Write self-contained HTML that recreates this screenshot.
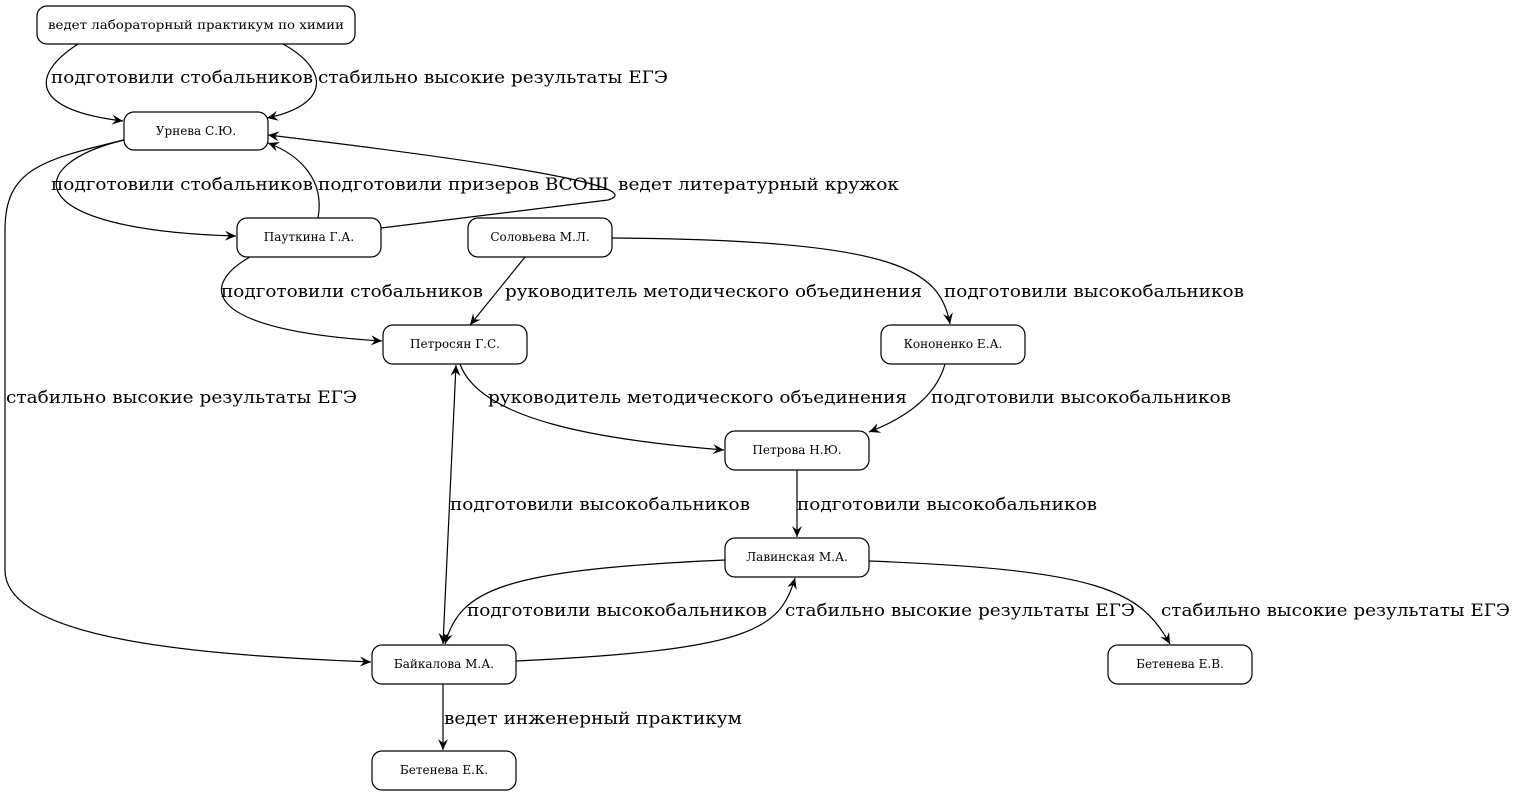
<!DOCTYPE html>
<html><head><meta charset="utf-8"><style>
html,body{margin:0;padding:0;background:#fff}
svg{display:block}
text{font-family:"DejaVu Serif","Liberation Serif",serif;fill:#000}
.n{font-size:12px}
.e{font-size:17px}
.l{fill:none;stroke:#000;stroke-width:1.2}
.b{fill:#fff;stroke:#000;stroke-width:1.2}
</style></head><body>
<svg width="1517" height="796" viewBox="0 0 1517 796" xmlns="http://www.w3.org/2000/svg">
<defs>
<marker id="a" viewBox="0 0 12 10" refX="11" refY="5" markerWidth="12" markerHeight="10" markerUnits="userSpaceOnUse" orient="auto-start-reverse">
<path d="M0,0 L11,5 L0,10 L4,5 Z" fill="#000"/>
</marker>
</defs>
<g class="l" marker-end="url(#a)">
<path d="M78,44 C30,75 30,110 123,121"/>
<path d="M283,44 C330,70 330,105 267,118"/>
<path d="M124,140 C20,165 20,230 236,236"/>
<path d="M318,218 C325,180 300,155 268,143"/>
<path d="M381,228 L608,200 C628,194 630,178 268,135"/>
<path d="M124,140 C40,160 5,170 5,230 L5,570 C5,640 200,655 371,662"/>
<path d="M250,257 C200,285 200,330 382,341"/>
<path d="M525,257 L470,325"/>
<path d="M612,238 C900,240 940,270 950,324"/>
<path d="M460,364 C480,420 600,440 724,450"/>
<path d="M945,364 C935,400 900,420 869,432"/>
<path d="M797,470 L797,537"/>
<path d="M456,365 L443,644" marker-start="url(#a)"/>
<path d="M725,560 C500,570 460,590 445,644"/>
<path d="M516,661 C750,650 780,630 795,578"/>
<path d="M869,561 C1100,570 1140,590 1170,644"/>
<path d="M443,684 L443,750"/>
</g>
<g>
<rect class="b" x="37" y="6" width="318" height="38" rx="10"/>
<rect class="b" x="124" y="112" width="144" height="38" rx="10"/>
<rect class="b" x="237" y="218" width="144" height="39" rx="10"/>
<rect class="b" x="468" y="218" width="144" height="39" rx="10"/>
<rect class="b" x="383" y="325" width="144" height="39" rx="10"/>
<rect class="b" x="881" y="325" width="144" height="39" rx="10"/>
<rect class="b" x="725" y="431" width="144" height="39" rx="10"/>
<rect class="b" x="725" y="538" width="144" height="39" rx="10"/>
<rect class="b" x="372" y="645" width="144" height="39" rx="10"/>
<rect class="b" x="1108" y="645" width="144" height="39" rx="10"/>
<rect class="b" x="372" y="751" width="144" height="39" rx="10"/>
</g>
<g class="n" text-anchor="middle">
<text x="196" y="29" textLength="296" lengthAdjust="spacingAndGlyphs">ведет лабораторный практикум по химии</text>
<text x="196" y="135">Урнева С.Ю.</text>
<text x="309" y="241">Пауткина Г.А.</text>
<text x="540" y="241">Соловьева М.Л.</text>
<text x="455" y="348">Петросян Г.С.</text>
<text x="953" y="348">Кононенко Е.А.</text>
<text x="797" y="454">Петрова Н.Ю.</text>
<text x="797" y="561">Лавинская М.А.</text>
<text x="444" y="668">Байкалова М.А.</text>
<text x="1180" y="668">Бетенева Е.В.</text>
<text x="444" y="774">Бетенева Е.К.</text>
</g>
<g class="e">
<text x="51" y="83" textLength="262" lengthAdjust="spacingAndGlyphs">подготовили стобальников</text>
<text x="318" y="83" textLength="350" lengthAdjust="spacingAndGlyphs">стабильно высокие результаты ЕГЭ</text>
<text x="51" y="190" textLength="262" lengthAdjust="spacingAndGlyphs">подготовили стобальников</text>
<text x="318" y="190" textLength="291" lengthAdjust="spacingAndGlyphs">подготовили призеров ВСОШ</text>
<text x="618" y="190" textLength="281" lengthAdjust="spacingAndGlyphs">ведет литературный кружок</text>
<text x="221" y="297" textLength="262" lengthAdjust="spacingAndGlyphs">подготовили стобальников</text>
<text x="505" y="297" textLength="417" lengthAdjust="spacingAndGlyphs">руководитель методического объединения</text>
<text x="944" y="297" textLength="300" lengthAdjust="spacingAndGlyphs">подготовили высокобальников</text>
<text x="6" y="403" textLength="351" lengthAdjust="spacingAndGlyphs">стабильно высокие результаты ЕГЭ</text>
<text x="488" y="403" textLength="419" lengthAdjust="spacingAndGlyphs">руководитель методического объединения</text>
<text x="931" y="403" textLength="300" lengthAdjust="spacingAndGlyphs">подготовили высокобальников</text>
<text x="450" y="510" textLength="300" lengthAdjust="spacingAndGlyphs">подготовили высокобальников</text>
<text x="797" y="510" textLength="300" lengthAdjust="spacingAndGlyphs">подготовили высокобальников</text>
<text x="467" y="616" textLength="300" lengthAdjust="spacingAndGlyphs">подготовили высокобальников</text>
<text x="785" y="616" textLength="350" lengthAdjust="spacingAndGlyphs">стабильно высокие результаты ЕГЭ</text>
<text x="1161" y="616" textLength="349" lengthAdjust="spacingAndGlyphs">стабильно высокие результаты ЕГЭ</text>
<text x="444" y="724" textLength="298" lengthAdjust="spacingAndGlyphs">ведет инженерный практикум</text>
</g>
</svg>
</body></html>
